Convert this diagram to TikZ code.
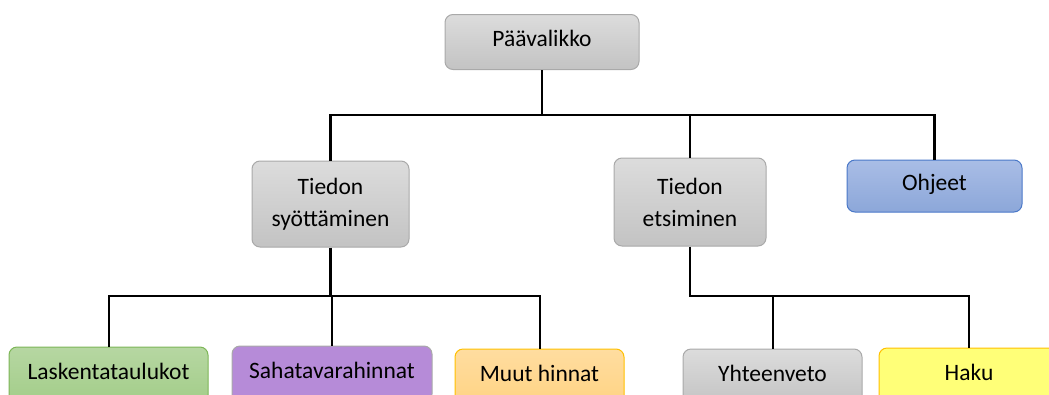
\documentclass[tikz,border=0pt]{standalone}
\usepackage{fontspec}
\setmainfont{Carlito}
\usepackage{tikz}

\definecolor{boxgrayA}{HTML}{DCDCDC}
\definecolor{boxgrayB}{HTML}{C3C3C3}
\definecolor{edgegray}{HTML}{A9A9A9}
\definecolor{greenA}{HTML}{B6D7A2}
\definecolor{greenB}{HTML}{A3CD89}
\definecolor{greenE}{HTML}{7DB657}
\definecolor{lilac}{HTML}{B68BD8}
\definecolor{orangeA}{HTML}{FFDDA0}
\definecolor{orangeB}{HTML}{FFD383}
\definecolor{orangeE}{HTML}{FFC000}
\definecolor{blueA}{HTML}{A9BDE6}
\definecolor{blueB}{HTML}{8CA7D9}
\definecolor{blueE}{HTML}{4A78C8}
\definecolor{lemon}{HTML}{FFFF78}

\begin{document}
\begin{tikzpicture}[x=1pt,y=-1pt]
  \tikzset{menu/.style = {shape=rectangle,rounded corners=8pt,inner sep=0pt,align=center,
      font=\fontsize{23.5}{32}\selectfont,line width=1pt}}
  \tikzset{oneline/.style = {text depth=7pt}}
  \tikzset{grey/.style = {menu,draw=edgegray,top color=boxgrayA,bottom color=boxgrayB}}
  \tikzset{link/.style = {draw=black,line width=2.6pt}}
  \tikzset{sublink/.style = {draw=black,line width=2pt}}
  \useasboundingbox (0,0) rectangle (1049,394);
  \clip (0,0) rectangle (1049,394);
	\node[grey,oneline,minimum width=194,minimum height=55] (paa) at (542,42) {Päävalikko};
	
	\node[grey,minimum width=157,minimum height=86] (syot) at (330.5,204) {Tiedon\\syöttäminen};
	\node[grey,minimum width=152,minimum height=88] (etsi) at (690,202) {Tiedon\\etsiminen};
	\node[menu,oneline,draw=blueE,top color=blueA,bottom color=blueB,minimum width=175,minimum height=52] (ohje) at (934.5,186) {Ohjeet};
	
	\node[menu,oneline,draw=greenE,top color=greenA,bottom color=greenB,minimum width=199,minimum height=56] (lask) at (108.5,375) {Laskentataulukot};
	\node[menu,oneline,draw=edgegray,fill=lilac,minimum width=200,minimum height=56] (saha) at (332,374) {Sahatavarahinnat};
	\node[menu,oneline,draw=orangeE,top color=orangeA,bottom color=orangeB,minimum width=169,minimum height=56] (muut) at (539.5,377) {Muut hinnat};
	\node[grey,oneline,minimum width=179,minimum height=56] (yht) at (772.5,377) {Yhteenveto};
	\node[menu,oneline,draw=orangeE,fill=lemon,minimum width=180,minimum height=56] (haku) at (969,376) {Haku};
	
	% bus lines
	\coordinate (bus1) at (0,115);
	\coordinate (bus2) at (0,296);
	
	\path[link] (paa.south) -- (paa.south |- bus1);
	\path[link] (syot.north) |- (ohje.north |- bus1) -- (ohje.north);
	\path[link] (etsi.north) -- (etsi.north |- bus1);
	
	\path[link] (syot.south) -- (syot.south |- bus2);
	\path[sublink] (lask.north) |- (muut.north |- bus2) -- (muut.north);
	\path[sublink] (saha.north) -- (saha.north |- bus2);
	
	\path[link] (etsi.south) |- (yht.north |- bus2);
	\path[sublink] (yht.north) |- (haku.north |- bus2) -- (haku.north);
   
\end{tikzpicture}
\end{document}
